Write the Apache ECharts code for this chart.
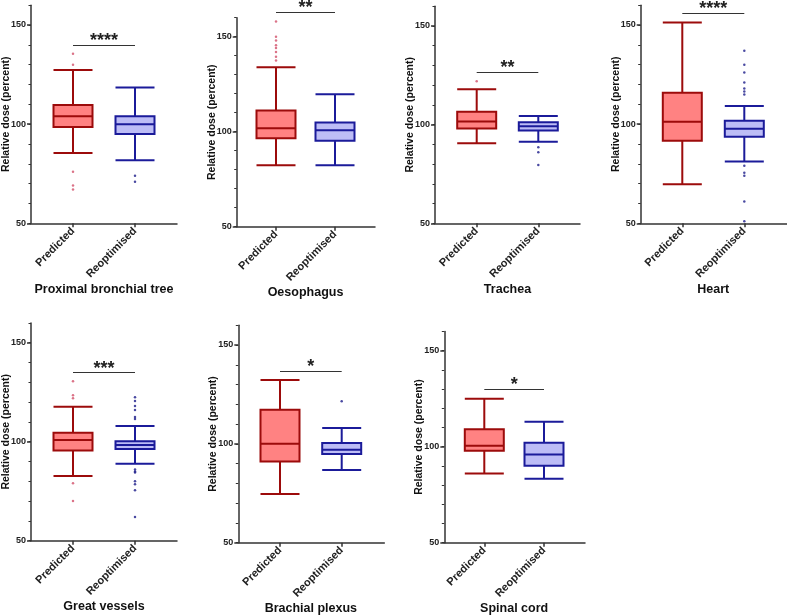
<!DOCTYPE html>
<html>
<head>
<meta charset="utf-8">
<script src="https://cdn.jsdelivr.net/npm/echarts@6/dist/echarts.min.js"></script>
<style>
  html, body { margin: 0; padding: 0; background: #fff; }
  #chart { width: 787px; height: 616px; }
</style>
</head>
<body>
<div id="chart"></div>
<script>
// categories and panel names
const groups = ["Predicted", "Reoptimised"];
const organs = ["Proximal bronchial tree", "Oesophagus", "Trachea", "Heart", "Great vessels", "Brachial plexus", "Spinal cord"];

// box stats [min whisker, Q1, median, Q3, max whisker]
const predictedBox = [
    [85.5, 98.6, 104.0, 109.6, 127.3],
    [82.4, 96.5, 101.8, 111.1, 133.9],
    [90.6, 98.1, 101.6, 106.5, 118.0],
    [69.7, 91.6, 101.2, 115.8, 151.2],
    [82.7, 95.5, 100.9, 104.5, 117.7],
    [74.6, 91.1, 100.0, 117.2, 132.3],
    [86.1, 97.9, 100.5, 109.1, 125.0]
];
const reoptimisedBox = [
    [81.8, 95.0, 100.0, 104.0, 118.5],
    [82.3, 95.2, 100.7, 104.9, 119.7],
    [91.3, 97.0, 99.2, 101.2, 104.4],
    [81.2, 93.7, 97.7, 101.7, 109.1],
    [88.9, 96.3, 98.3, 100.2, 107.9],
    [86.8, 94.9, 97.0, 100.4, 108.0],
    [83.3, 90.1, 96.0, 102.1, 113.0]
];

// outlier points
const predictedOutliers = [
    [135.5, 130, 76, 69, 67],
    [158, 150, 148, 145.5, 144, 142, 139.5, 137.5],
    [122],
    [],
    [130.5, 123.5, 122, 79, 70],
    [],
    []
];
const reoptimisedOutliers = [
    [74, 71],
    [],
    [88.5, 86, 79.5],
    [137, 130, 126, 121, 118, 116.5, 115, 79, 75.5, 74, 61, 51],
    [122.5, 120.5, 118, 116, 112.5, 111.5, 86, 85, 84.5, 80, 78.5, 75.5, 62],
    [121.5],
    []
];

// significance bars
const sigLevel = [140, 162.8, 126.7, 155.9, 134.9, 136.8, 129.9];
const sigStars = ["****", "**", "**", "****", "***", "*", "*"];

// y axis
const yTicks = [50, 100, 150];
const yMin = 50;
const yMax = 160;

// panel placement (pixels)
const panels = [
    { axisX: 31, y150: 25, y50: 223.3, xEnd: 177, c0: 73, c1: 135 },
    { axisX: 236.7, y150: 36.7, y50: 226.7, xEnd: 375, c0: 276, c1: 335 },
    { axisX: 435, y150: 26, y50: 223.3, xEnd: 580, c0: 476.7, c1: 538.3 },
    { axisX: 640.7, y150: 25, y50: 223.3, xEnd: 787, c0: 682.3, c1: 744.3 },
    { axisX: 31, y150: 342.7, y50: 540.7, xEnd: 177, c0: 73, c1: 135 },
    { axisX: 238.3, y150: 345, y50: 542.7, xEnd: 384.3, c0: 280, c1: 341.7 },
    { axisX: 444.3, y150: 350.7, y50: 542.7, xEnd: 585, c0: 484.3, c1: 544 }
];

const redFill = "#ff8282";
const redLine = "#9c0b0b";
const blueFill = "#bdbdf6";
const blueLine = "#1b1b9a";
const axisColor = "#333";

const grid = [];
const xAxis = [];
const yAxis = [];
const series = [];

panels.forEach(function (p, i) {
    const ppu = (p.y50 - p.y150) / 100;
    const gOuter = grid.length;
    // outer grid: visible axes
    grid.push({
        left: p.axisX,
        top: p.y50 - (yMax - yMin) * ppu,
        width: p.xEnd - p.axisX,
        height: (yMax - yMin) * ppu,
        outerBoundsMode: "none",
        containLabel: false
    });
    // inner grid: boxes, narrower and taller so the bar can sit above the axis
    const gInner = grid.length;
    const spacing = p.c1 - p.c0;
    grid.push({
        left: p.c0 - spacing / 2,
        top: p.y50 - 120 * ppu,
        width: spacing * 2,
        height: 120 * ppu,
        outerBoundsMode: "none",
        containLabel: false
    });

    xAxis.push({
        gridIndex: gOuter,
        type: "value",
        min: 0,
        max: 1,
        axisLine: { show: true, lineStyle: { color: axisColor, width: 1.5 } },
        axisTick: { show: false },
        axisLabel: { show: false },
        splitLine: { show: false }
    });
    const xInner = xAxis.length;
    xAxis.push({
        gridIndex: gInner,
        type: "category",
        data: groups,
        axisLine: { show: false },
        axisTick: { show: true, alignWithLabel: true, length: 4, lineStyle: { color: axisColor, width: 1.5 } },
        axisLabel: { rotate: 45, interval: 0, fontSize: 11, fontWeight: "bold", color: "#222", margin: 6 },
        name: organs[i],
        nameLocation: "middle",
        nameGap: 59,
        nameTextStyle: { fontSize: 12.5, fontWeight: "bold", color: "#111" },
        splitLine: { show: false }
    });

    // minor ticks + axis line
    yAxis.push({
        gridIndex: gOuter,
        type: "value",
        position: "left",
        min: yMin,
        max: yMax,
        interval: 10,
        axisLine: { show: true, lineStyle: { color: axisColor, width: 1.5 } },
        axisTick: { show: true, length: 2.5, lineStyle: { color: axisColor, width: 1 } },
        axisLabel: { show: false },
        splitLine: { show: false },
        name: "Relative dose (percent)",
        nameLocation: "middle",
        nameRotate: 90,
        nameGap: 19.5,
        nameTextStyle: { fontSize: 10.5, fontWeight: "bold", color: "#111" }
    });
    // major ticks + labels
    yAxis.push({
        gridIndex: gOuter,
        type: "value",
        position: "left",
        min: yMin,
        max: yMax,
        interval: 50,
        axisLine: { show: false },
        axisTick: { show: true, length: 4, customValues: yTicks, lineStyle: { color: axisColor, width: 1.5 } },
        axisLabel: { show: true, customValues: yTicks, fontSize: 9, fontWeight: "bold", color: "#222", margin: 5 },
        splitLine: { show: false }
    });
    const yInner = yAxis.length;
    yAxis.push({
        gridIndex: gInner,
        type: "value",
        min: yMin,
        max: 170,
        show: false,
        splitLine: { show: false }
    });

    series.push({
        type: "boxplot",
        xAxisIndex: xInner,
        yAxisIndex: yInner,
        boxWidth: [39, 39],
        data: [
            { value: predictedBox[i], itemStyle: { color: redFill, borderColor: redLine, borderWidth: 2 } },
            { value: reoptimisedBox[i], itemStyle: { color: blueFill, borderColor: blueLine, borderWidth: 2 } }
        ]
    });
    series.push({
        type: "scatter",
        xAxisIndex: xInner,
        yAxisIndex: yInner,
        symbolSize: 2.5,
        itemStyle: { color: "#d2506a" },
        data: predictedOutliers[i].map(function (v) { return [0, v]; })
    });
    series.push({
        type: "scatter",
        xAxisIndex: xInner,
        yAxisIndex: yInner,
        symbolSize: 2.5,
        itemStyle: { color: "#1b1b8a" },
        data: reoptimisedOutliers[i].map(function (v) { return [1, v]; })
    });
    // significance bar
    series.push({
        type: "line",
        xAxisIndex: xInner,
        yAxisIndex: yInner,
        data: [],
        markLine: {
            silent: true,
            symbol: "none",
            lineStyle: { color: "#333", width: 1, type: "solid" },
            label: {
                show: true,
                position: "insideMiddleTop",
                formatter: sigStars[i],
                fontSize: 18,
                fontWeight: "bold",
                color: "#222",
                distance: -5
            },
            data: [[{ coord: [0, sigLevel[i]] }, { coord: [1, sigLevel[i]] }]]
        }
    });
});

const option = {
    animation: false,
    backgroundColor: "#fff",
    textStyle: { fontFamily: "Liberation Sans, Arial, sans-serif" },
    grid: grid,
    xAxis: xAxis,
    yAxis: yAxis,
    series: series
};

const myChart = echarts.init(document.getElementById("chart"), null, { renderer: "canvas" });
myChart.setOption(option);
</script>
</body>
</html>
